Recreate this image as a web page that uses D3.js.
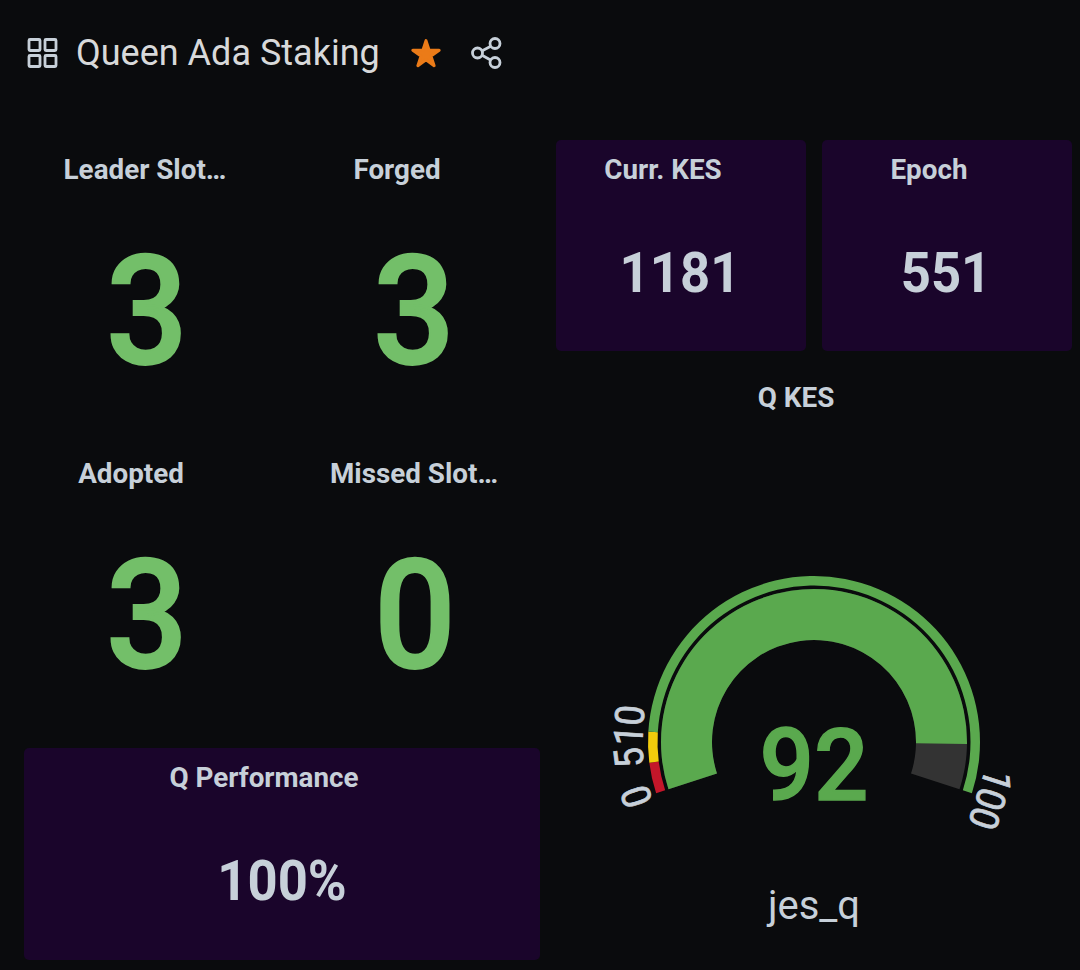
<!DOCTYPE html>
<html><head><meta charset="utf-8">
<script src="https://cdn.jsdelivr.net/npm/d3@7"></script>
<style>html,body{margin:0;padding:0;background:#0a0b0d}svg{display:block}text{font-family:Roboto,sans-serif}</style>
</head><body><svg id="c" width="1080" height="970"></svg>
<script>
const dashboardTitle = "Queen Ada Staking";
const statLabels = ["Leader Slot…","Forged","Adopted","Missed Slot…"];
const statValues = ["3","3","3","0"];
const boxLabels = ["Curr. KES","Epoch","Q Performance"];
const boxValues = ["1181","551","100%"];
const gaugeTitle = "Q KES";
const gaugeName = "jes_q";
const gaugeValue = 92;
const gaugeDomain = [0,100];
const thresholdStops = [0,5,10,100];
const thresholdColors = ["#c4162a","#f2cc0c","#5aa94e"];
const gaugeTicks = ["0","5","10","100"];
const gaugeTickValues = [0,5,10,100];

const svg = d3.select("#c");
const BG="#0a0b0d", TXT="#c7d0d9", GREEN="#73bf69", GG="#5aa94e", PURPLE="#1a052b";
svg.append("rect").attr("width",1080).attr("height",970).attr("fill",BG);

// header
const ico = svg.append("g").attr("fill","none").attr("stroke","#c7d0d9").attr("stroke-width",2.8);
[[29,39.5],[45,39.5],[29,55.5],[45,55.5]].forEach(p=>ico.append("rect").attr("x",p[0]).attr("y",p[1]).attr("width",11).attr("height",11).attr("rx",1));
svg.append("text").attr("x",76).attr("y",65).attr("font-size",36).attr("fill","#d8d9da").text(dashboardTitle);
svg.append("path").attr("d",d3.symbol(d3.symbolStar,215)()).attr("transform","translate(426,54.5)")
  .attr("fill","#eb7b18").attr("stroke","#eb7b18").attr("stroke-width",3).attr("stroke-linejoin","round");
const sh = svg.append("g").attr("fill","none").attr("stroke","#c7d0d9").attr("stroke-width",2.8);
sh.append("path").attr("d",d3.line()([[495,44],[478,53],[495,62.5]]));
[[495,43.5],[477.5,53],[495,62.5]].forEach(p=>sh.append("circle").attr("cx",p[0]).attr("cy",p[1]).attr("r",5).attr("fill",BG));

// stat panels
const stats=[{i:0,lx:145,vx:147,ly:179,vy:364},{i:1,lx:397,vx:414,ly:179,vy:364},{i:2,lx:131,vx:147,ly:483,vy:668},{i:3,lx:414,vx:415,ly:483,vy:668}];
const sg=svg.selectAll("g.stat").data(stats).join("g").attr("class","stat");
sg.append("text").attr("x",d=>d.lx).attr("y",d=>d.ly).attr("text-anchor","middle").attr("font-size",27.8).attr("font-weight",700).attr("fill",TXT).text(d=>statLabels[d.i]);
sg.append("text").attr("transform",d=>`translate(${d.vx},${d.vy}) scale(0.93,0.985)`).attr("text-anchor","middle").attr("font-size",155).attr("font-weight",500)
  .attr("stroke",GREEN).attr("stroke-width",2).attr("fill",GREEN).text(d=>statValues[d.i]);

// purple boxes
const boxes=[{i:0,x:556,y:140,w:250,h:211,lx:663,ly:179,vx:680,vy:292},{i:1,x:822,y:140,w:250,h:211,lx:929,ly:179,vx:946,vy:292},{i:2,x:24,y:748,w:516,h:212,lx:264,ly:787,vx:282,vy:900}];
const bg=svg.selectAll("g.box").data(boxes).join("g").attr("class","box");
bg.append("rect").attr("x",d=>d.x).attr("y",d=>d.y).attr("width",d=>d.w).attr("height",d=>d.h).attr("rx",5).attr("fill",PURPLE);
bg.append("text").attr("x",d=>d.lx).attr("y",d=>d.ly).attr("text-anchor","middle").attr("font-size",27.8).attr("font-weight",700).attr("fill",TXT).text(d=>boxLabels[d.i]);
bg.append("text").attr("transform",d=>`translate(${d.vx},${d.vy}) scale(0.94,1)`).attr("text-anchor","middle").attr("font-size",56).attr("font-weight",700).attr("fill",TXT).text(d=>boxValues[d.i]);

// gauge
svg.append("text").attr("x",796).attr("y",407).attr("text-anchor","middle").attr("font-size",27.8).attr("font-weight",700).attr("fill",TXT).text(gaugeTitle);
const cx=814, cy=742;
const span=216*Math.PI/180;
const ang=d3.scaleLinear().domain(gaugeDomain).range([-span/2,span/2]);
const g=svg.append("g").attr("transform",`translate(${cx},${cy})`);
const threshArc=d3.arc().innerRadius(156.5).outerRadius(166);
const mainArc=d3.arc().innerRadius(102).outerRadius(153);
thresholdColors.forEach((c,i)=>g.append("path").attr("fill",c).attr("d",threshArc({startAngle:ang(thresholdStops[i]),endAngle:ang(thresholdStops[i+1])})));
g.append("path").attr("fill","#333333").attr("d",mainArc({startAngle:ang(gaugeDomain[0]),endAngle:ang(gaugeDomain[1])}));
g.append("path").attr("fill",GG).attr("d",mainArc({startAngle:ang(gaugeDomain[0]),endAngle:ang(gaugeValue)}));
const tickShift=[3,7.5,5,0];
gaugeTicks.forEach((t,i)=>{
  const a=ang(gaugeTickValues[i]);
  const r=186;
  const deg=a*180/Math.PI;
  const x=r*Math.sin(a), y=-r*Math.cos(a);
  g.append("text").attr("transform",`translate(${x},${y}) rotate(${deg}) scale(1,1.12)`)
   .attr("text-anchor","middle").attr("dx",tickShift[i]).attr("dy","0.36em").attr("font-size",36).attr("fill",TXT)
   .attr("stroke",TXT).attr("stroke-width",0.7).text(t);
});
svg.append("text").attr("transform","translate(814,800) scale(0.95,1)").attr("text-anchor","middle").attr("font-size",101).attr("font-weight",500)
  .attr("stroke",GG).attr("stroke-width",1.5).attr("fill",GG).text(gaugeValue);
svg.append("text").attr("x",814).attr("y",919).attr("text-anchor","middle").attr("font-size",40).attr("fill",TXT).text(gaugeName);
</script></body></html>
